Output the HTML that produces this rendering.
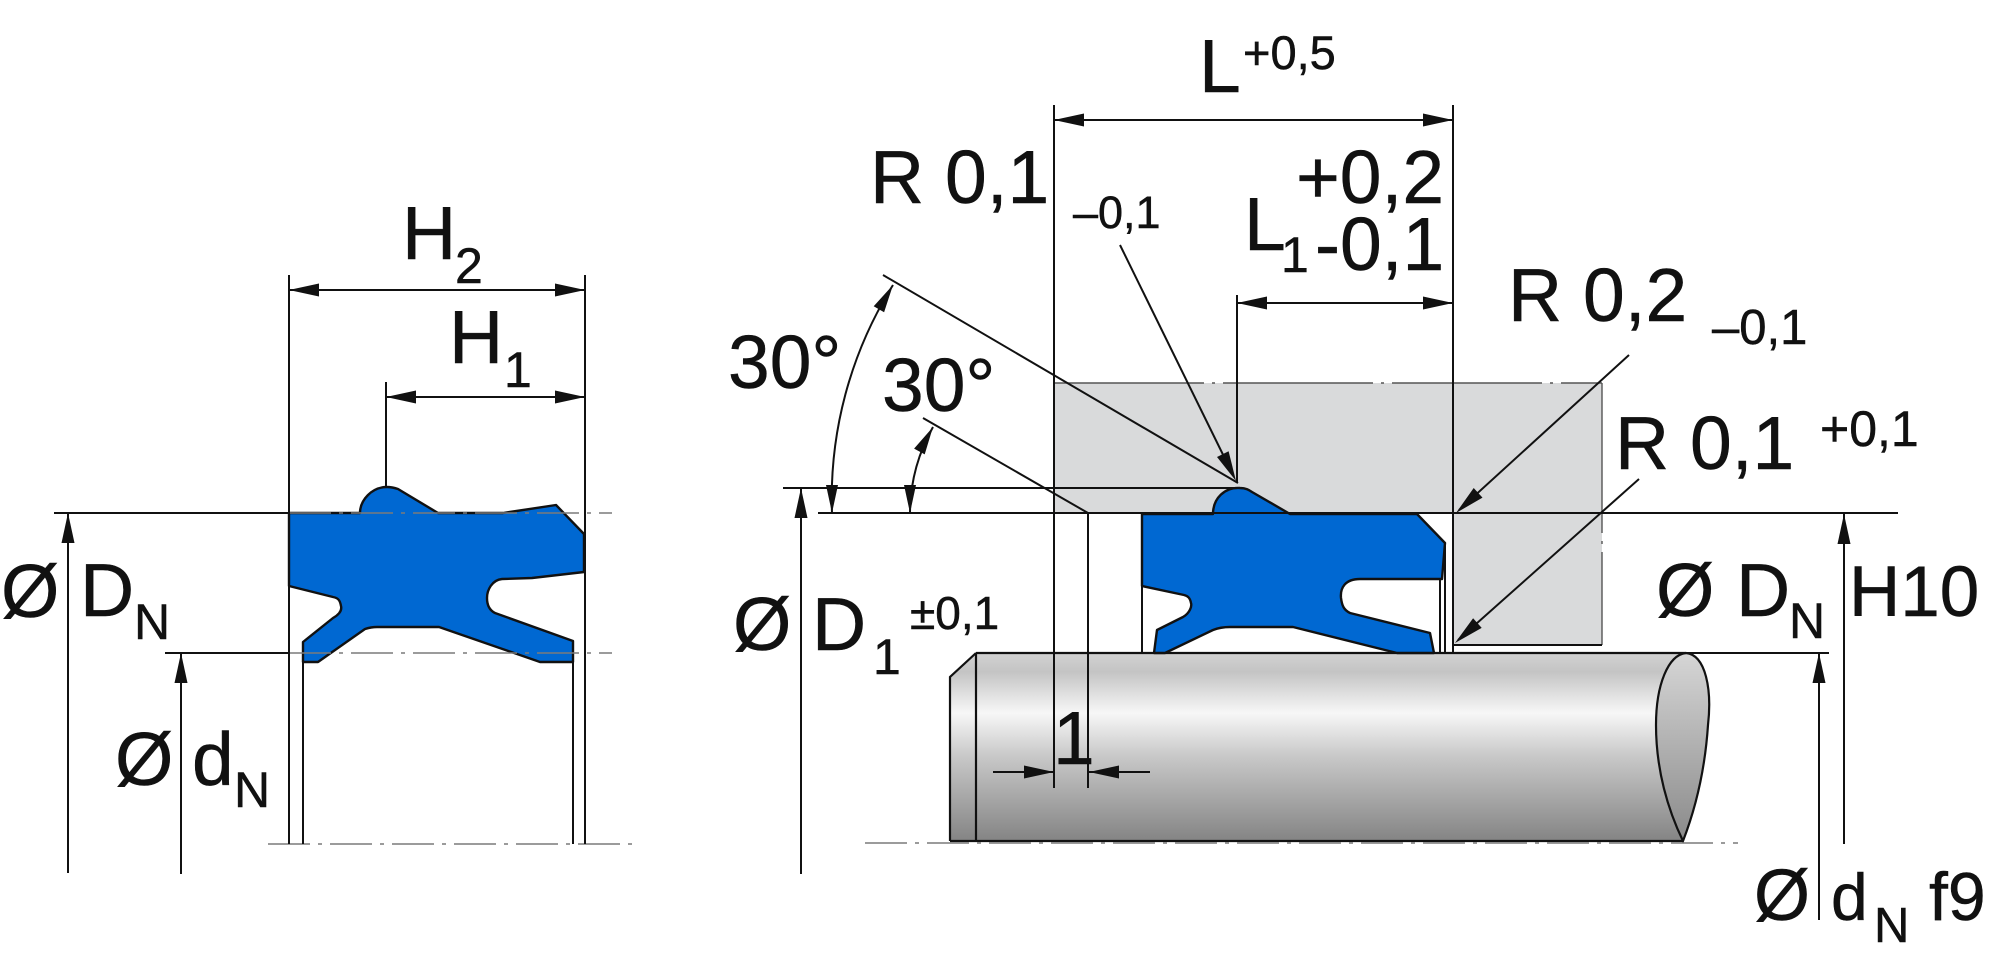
<!DOCTYPE html>
<html>
<head>
<meta charset="utf-8">
<style>
html,body{margin:0;padding:0;background:#fff;}
svg{display:block;}
text{font-family:"Liberation Sans",Arial,sans-serif;fill:#111;stroke:#111;stroke-width:0.5;}
</style>
</head>
<body>
<svg width="2000" height="969" viewBox="0 0 2000 969" xmlns="http://www.w3.org/2000/svg">
<defs>
<linearGradient id="rod" x1="0" y1="0" x2="0" y2="1">
<stop offset="0" stop-color="#d2d2d2"/>
<stop offset="0.1" stop-color="#c4c4c4"/>
<stop offset="0.32" stop-color="#f7f7f7"/>
<stop offset="0.55" stop-color="#c8c8c8"/>
<stop offset="1" stop-color="#848484"/>
</linearGradient>
<linearGradient id="endf" x1="0" y1="0" x2="0" y2="1">
<stop offset="0" stop-color="#d6d6d6"/>
<stop offset="1" stop-color="#8a8a8a"/>
</linearGradient>
</defs>

<!-- ===== housing grey ===== -->
<rect x="1054" y="383" width="548" height="131" fill="#d9dadb"/>
<rect x="1453" y="513" width="149" height="132" fill="#d9dadb"/>
<rect x="1446" y="514" width="7" height="139" fill="#fff"/>

<!-- ===== rod ===== -->
<path d="M976 653 L1686 653 L1683 841 L950 841 L950 677 Z" fill="url(#rod)"/>
<path d="M1686 653 C1706 655 1712 690 1708 725 C1705 770 1695 810 1683 841 C1668 810 1656 770 1656 725 C1656 685 1668 655 1686 653 Z" fill="url(#endf)" stroke="#111" stroke-width="2.2"/>
<g stroke="#111" stroke-width="2.2" fill="none">
<path d="M976 653 L1686 653"/>
<path d="M950 841 L1683 841"/>
<path d="M976 653 L950 677 L950 841"/>
<path d="M976 653 L976 841"/>
</g>

<!-- ===== seals ===== -->
<path d="M289 513 L360 513 C360 500 372 487 387 487 C392 487 395 488 398 489 L438 513 L503 513 L556 505 L584 534 L584 572 L532 578 L502 579 C492 580 487 590 487 598 C487 605 489 610 495 613 L573 641 L573 662 L540 662 L439 627 L377 627 C371 627 368 628 365 629 L318 662 L303 662 L303 642 L333 618 C340 614 342 610 341 606 C340 600 338 598 333 597 L289 586 Z" fill="#0068d2" stroke="#111" stroke-width="2.4" stroke-linejoin="round"/>
<path d="M1142 514 L1213 514 C1213 498 1225 487 1240 488 C1246 488 1249 490 1252 492 L1290 514 L1417 514 L1445 543 L1442 579 L1360 579 C1345 579 1340 588 1341 598 C1342 606 1344 610 1350 613 L1430 633 L1434 653 L1397 653 L1293 627 L1230 627 C1222 627 1218 628 1213 630 L1165 653 L1154 653 L1157 630 L1183 617 C1190 613 1192 606 1191 603 C1190 598 1188 596 1184 595 L1142 586 Z" fill="#0068d2" stroke="#111" stroke-width="2.4" stroke-linejoin="round"/>

<!-- ===== dash-dot centre lines ===== -->
<g stroke="#7a7a7a" stroke-width="1.6" fill="none" stroke-dasharray="42 8 4 8">
<path d="M289 513 L612 513"/>
<path d="M289 653 L612 653"/>
<path d="M268 844 L634 844"/>
<path d="M865 843 L1738 843"/>
</g>
<g stroke="#555" stroke-width="1.4" fill="none" stroke-dasharray="150 8 3 8">
<path d="M1054 383 L1602 383"/>
<path d="M1602 383 L1602 645"/>
</g>

<!-- ===== black lines ===== -->
<g stroke="#111" stroke-width="2" fill="none">
<!-- left drawing -->
<path d="M289 275 L289 844"/>
<path d="M585 275 L585 844"/>
<path d="M289 290 L585 290"/>
<path d="M386 382 L386 487"/>
<path d="M386 397 L585 397"/>
<path d="M54 513 L289 513"/>
<path d="M165 653 L289 653"/>
<path d="M303 662 L303 844"/>
<path d="M573 662 L573 844"/>
<path d="M68 513 L68 873"/>
<path d="M181 653 L181 874"/>

<!-- middle drawing -->
<path d="M1054 105 L1054 788"/>
<path d="M1453 105 L1453 653"/>
<path d="M1054 120 L1453 120"/>
<path d="M1237 295 L1237 483"/>
<path d="M1237 303 L1453 303"/>
<path d="M1120 245 L1233 475"/>
<path d="M883 275 L1238 483"/>
<path d="M923 418 L1088 513"/>
<path d="M783 488 L1238 488"/>
<path d="M818 513 L1898 513"/>
<path d="M1088 513 L1088 788"/>
<path d="M1142 514 L1142 653"/>
<path d="M1440 579 L1440 653"/>
<path d="M1445 543 L1445 653"/>
<path d="M1453 645 L1602 645"/>
<path d="M801 488 L801 874"/>
<path d="M893 285 A402 402 0 0 0 832 513"/>
<path d="M933 427 A177 177 0 0 0 910 513"/>
<path d="M993 772 L1054 772"/>
<path d="M1089 772 L1150 772"/>

<!-- right side -->
<path d="M1686 653 L1829 653"/>
<path d="M1844 514 L1844 844"/>
<path d="M1819 653 L1819 920"/>
<path d="M1629 355 L1459 510"/>
<path d="M1639 479 L1458 640"/>
</g>

<!-- ===== arrowheads ===== -->
<g fill="#111">
<polygon points="289,290 319,283.5 319,296.5"/>
<polygon points="585,290 555,283.5 555,296.5"/>
<polygon points="386,397 416,390.5 416,403.5"/>
<polygon points="585,397 555,390.5 555,403.5"/>
<polygon points="68,513 61.5,543 74.5,543"/>
<polygon points="181,653 174.5,683 187.5,683"/>

<polygon points="1054,120 1084,113.5 1084,126.5"/>
<polygon points="1453,120 1423,113.5 1423,126.5"/>
<polygon points="1237,303 1267,296.5 1267,309.5"/>
<polygon points="1453,303 1423,296.5 1423,309.5"/>
<polygon points="1236,481 1217,457 1228.6,451.2"/>
<polygon points="801,488 794.5,518 807.5,518"/>
<polygon points="893,285 884.1,312.2 873.7,306.2"/>
<polygon points="832,513 826,485 838,485"/>
<polygon points="933,427 924.7,454.4 914.1,448.6"/>
<polygon points="910,513 904,485 916,485"/>
<polygon points="1054,772 1024,765.5 1024,778.5"/>
<polygon points="1089,772 1119,765.5 1119,778.5"/>

<polygon points="1456,513 1473.7,488 1482.5,497.6"/>
<polygon points="1455,643 1473.1,618.2 1481.7,627.9"/>
<polygon points="1844,514 1837.5,544 1850.5,544"/>
<polygon points="1819,653 1812.5,683 1825.5,683"/>
</g>

<!-- ===== text ===== -->
<!-- left -->
<text x="1" y="617" font-size="75">Ø</text>
<text x="80" y="616" font-size="75">D</text>
<text x="134" y="639" font-size="50">N</text>
<text x="115" y="785" font-size="75">Ø</text>
<text x="192" y="785" font-size="75">d</text>
<text x="234" y="807" font-size="50">N</text>
<text x="402" y="259" font-size="75">H</text>
<text x="455" y="283" font-size="50">2</text>
<text x="449" y="363" font-size="75">H</text>
<text x="504" y="387" font-size="50">1</text>

<!-- middle -->
<text x="1199" y="92" font-size="75">L</text>
<text x="1243" y="69" font-size="47">+0,5</text>
<text x="870" y="203" font-size="75">R 0,1</text>
<text x="1073" y="228" font-size="45">–0,1</text>
<text x="1296" y="203" font-size="75">+0,2</text>
<text x="1244" y="250" font-size="75">L</text>
<text x="1281" y="272" font-size="50">1</text>
<text x="1315" y="270" font-size="75">-0,1</text>
<text x="728" y="388" font-size="75">30°</text>
<text x="882" y="411" font-size="75">30°</text>
<text x="733" y="650" font-size="75">Ø</text>
<text x="812" y="650" font-size="75">D</text>
<text x="873" y="674" font-size="50">1</text>
<text x="910" y="629" font-size="46">±0,1</text>
<text x="1053" y="764" font-size="75">1</text>

<!-- right -->
<text x="1508" y="321" font-size="75">R 0,2</text>
<text x="1712" y="344" font-size="49">–0,1</text>
<text x="1615" y="469" font-size="75">R 0,1</text>
<text x="1820" y="446" font-size="50">+0,1</text>
<text x="1656" y="616" font-size="75">Ø</text>
<text x="1736" y="616" font-size="75">D</text>
<text x="1789" y="638" font-size="50">N</text>
<text x="1849" y="616" font-size="71">H10</text>
<text x="1754" y="920" font-size="72">Ø</text>
<text x="1831" y="920" font-size="66">d</text>
<text x="1874" y="942" font-size="49">N</text>
<text x="1929" y="920" font-size="68">f9</text>
</svg>
</body>
</html>
